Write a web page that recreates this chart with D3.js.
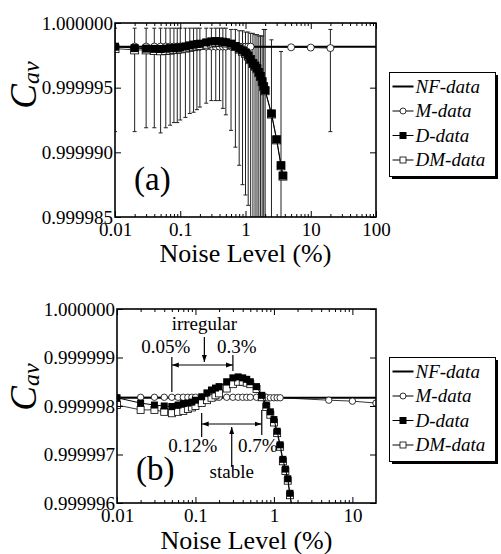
<!DOCTYPE html>
<html>
<head>
<meta charset="utf-8">
<script src="https://cdn.jsdelivr.net/npm/d3@7"></script>
<style>
  body { margin: 0; background: #fff; }
  svg text { font-family: "Liberation Serif", "Times New Roman", serif; fill: #000; }
</style>
</head>
<body>
<div id="chart"></div>
<script>
// noise levels (%) shared by D-data and DM-data
const noise = [0.01, 0.02, 0.03, 0.04, 0.05, 0.06, 0.07, 0.08, 0.09, 0.1,
  0.12, 0.14, 0.16, 0.18, 0.2, 0.25, 0.3, 0.35, 0.4, 0.45, 0.5, 0.6, 0.7, 0.8, 0.9,
  1.0, 1.1, 1.2, 1.3, 1.4, 1.5, 1.6, 1.7, 1.8, 1.9, 2.0, 2.5, 3.0, 3.5, 3.75];

const dData = [0.99999817, 0.99999806, 0.99999802, 0.99999800, 0.99999799, 0.99999802,
  0.99999805, 0.99999806, 0.99999808, 0.99999812, 0.99999819, 0.99999827, 0.99999833,
  0.99999837, 0.99999840, 0.99999850, 0.99999858, 0.99999860, 0.99999858, 0.99999855,
  0.99999850, 0.99999840, 0.99999822, 0.99999802, 0.99999788, 0.99999772, 0.99999748,
  0.99999720, 0.99999690, 0.99999670, 0.99999650, 0.99999620, 0.99999590, 0.99999550,
  0.99999510, 0.99999480, 0.99999300, 0.99999100, 0.99998900, 0.99998820];

const dmData = [0.99999802, 0.99999792, 0.99999792, 0.99999788, 0.99999785, 0.99999788,
  0.99999790, 0.99999794, 0.99999797, 0.99999800, 0.99999806, 0.99999812, 0.99999817,
  0.99999822, 0.99999826, 0.99999836, 0.99999845, 0.99999850, 0.99999850, 0.99999848,
  0.99999845, 0.99999835, 0.99999818, 0.99999798, 0.99999782, 0.99999766, 0.99999744,
  0.99999716, 0.99999686, 0.99999666, 0.99999646, 0.99999616, 0.99999586, 0.99999546,
  0.99999506, 0.99999476, 0.99999296, 0.99999096, 0.99998896, 0.99998816];

// D-data error bars (panel a), null = no bar drawn
const dErrHigh = [0.9999996, 0.9999996, 0.9999996, 0.9999996, 0.9999996, 0.9999996,
  0.9999996, 0.9999996, 0.9999996, 0.9999996, 0.9999996, 0.9999996, 0.9999996,
  0.9999996, 0.9999996, 0.9999996, 0.9999996, 0.9999996, 0.9999996, 0.9999996,
  0.9999996, 0.9999995, 0.9999995, 0.9999994, 0.9999994, 0.9999993, 0.9999993,
  0.9999992, 0.9999992, 0.9999991, 0.9999991, 0.9999990, 0.9999990, 0.9999990,
  0.9999995, 0.9999995, 0.9999987, null, 0.9999978, null];
const dErrLow = [0.9999916, 0.9999916, 0.9999919, 0.9999919, 0.9999915, 0.9999919,
  0.9999921, 0.9999923, 0.9999923, 0.9999925, 0.9999927, 0.9999930, 0.9999931,
  0.9999933, 0.9999935, 0.9999938, 0.9999940, 0.9999940, 0.9999940, 0.9999934,
  0.9999929, 0.9999917, 0.9999904, 0.9999890, 0.9999875, 0.9999867, 0.9999859,
  0.9999800, 0.9999800, 0.9999800, 0.9999800, 0.9999800, 0.9999800, 0.9999800,
  0.9999800, 0.9999800, 0.9999800, null, 0.9999800, null];

const mNoise = [0.01, 0.02, 0.03, 0.04, 0.05, 0.06, 0.07, 0.08, 0.09, 0.1,
  0.12, 0.14, 0.16, 0.18, 0.2, 0.25, 0.3, 0.35, 0.4, 0.45, 0.5, 0.6, 0.7, 0.8, 0.9,
  1.0, 1.1, 1.2, 5, 10, 20];
const mData = [0.99999818, 0.99999818, 0.99999818, 0.99999818, 0.99999818, 0.99999818,
  0.99999818, 0.99999818, 0.99999818, 0.99999818, 0.99999818, 0.99999818, 0.99999818,
  0.99999818, 0.99999818, 0.99999818, 0.99999818, 0.99999818, 0.99999818, 0.99999818,
  0.99999818, 0.99999818, 0.99999818, 0.99999818, 0.99999817, 0.99999817, 0.99999817,
  0.99999817, 0.99999812, 0.99999810, 0.99999806];
const mErrNoise = [20];
const mErrHigh = [0.9999995];
const mErrLow = [0.9999916];

const nfValue = 0.99999817;
const seriesNames = ["NF-data", "M-data", "D-data", "DM-data"];

const xTicksA = [0.01, 0.1, 1, 10, 100];
const yTicksA = [0.999985, 0.99999, 0.999995, 1.0];
const xTicksB = [0.01, 0.1, 1, 10];
const yTicksB = [0.999996, 0.999997, 0.999998, 0.999999, 1.0];

const width = 501, height = 554;

const svg = d3.select("#chart").append("svg")
  .attr("width", width)
  .attr("height", height)
  .style("background", "#fff");

const defs = svg.append("defs");
defs.append("marker")
  .attr("id", "arrow")
  .attr("viewBox", "0 0 10 10")
  .attr("refX", 10).attr("refY", 5)
  .attr("markerWidth", 7).attr("markerHeight", 7)
  .attr("markerUnits", "userSpaceOnUse")
  .attr("orient", "auto-start-reverse")
  .append("path")
  .attr("d", "M0,1.5 L10,5 L0,8.5 Z")
  .attr("fill", "#000");

function drawPanel(p) {
  const g = svg.append("g");
  const x = d3.scaleLog().domain(p.xDomain).range([p.left, p.right]);
  const y = d3.scaleLinear().domain(p.yDomain).range([p.bottom, p.top]);

  defs.append("clipPath").attr("id", "clip-" + p.name)
    .append("rect")
    .attr("x", p.left).attr("y", p.top)
    .attr("width", p.right - p.left).attr("height", p.bottom - p.top);

  const plot = g.append("g").attr("clip-path", "url(#clip-" + p.name + ")");

  // error bars
  if (p.showErr) {
    const errs = noise.map((n, i) => ({ n: n, hi: dErrHigh[i], lo: dErrLow[i] }))
      .filter(d => d.hi !== null)
      .concat(mErrNoise.map((n, i) => ({ n: n, hi: mErrHigh[i], lo: mErrLow[i] })));
    const eb = plot.append("g").attr("stroke", "#222").attr("stroke-width", 1);
    eb.selectAll(".bar").data(errs).enter().append("line")
      .attr("x1", d => x(d.n)).attr("x2", d => x(d.n))
      .attr("y1", d => y(d.hi)).attr("y2", d => y(d.lo));
    eb.selectAll(".caphi").data(errs).enter().append("line")
      .attr("x1", d => x(d.n) - 2).attr("x2", d => x(d.n) + 2)
      .attr("y1", d => y(d.hi)).attr("y2", d => y(d.hi));
    eb.selectAll(".caplo").data(errs).enter().append("line")
      .attr("x1", d => x(d.n) - 2).attr("x2", d => x(d.n) + 2)
      .attr("y1", d => y(d.lo)).attr("y2", d => y(d.lo));
  }

  // NF-data
  plot.append("line")
    .attr("x1", x(p.xDomain[0])).attr("x2", x(p.xDomain[1]))
    .attr("y1", y(nfValue)).attr("y2", y(nfValue))
    .attr("stroke", "#000").attr("stroke-width", 2);

  const line = d3.line().x(d => x(d[0])).y(d => y(d[1]));

  // M-data
  const mPts = mNoise.map((n, i) => [n, mData[i]]);
  plot.append("path").datum(mPts).attr("d", line)
    .attr("fill", "none").attr("stroke", "#000").attr("stroke-width", 0.8);
  plot.selectAll(".mpt").data(mPts).enter().append("circle")
    .attr("cx", d => x(d[0])).attr("cy", d => y(d[1])).attr("r", p.r)
    .attr("fill", "#fff").attr("stroke", "#000").attr("stroke-width", 0.8);

  // DM-data
  const dmPts = noise.map((n, i) => [n, dmData[i]]);
  plot.append("path").datum(dmPts).attr("d", line)
    .attr("fill", "none").attr("stroke", "#000").attr("stroke-width", 0.8);
  plot.selectAll(".dmpt").data(dmPts).enter().append("rect")
    .attr("x", d => x(d[0]) - p.sq / 2).attr("y", d => y(d[1]) - p.sq / 2)
    .attr("width", p.sq).attr("height", p.sq)
    .attr("fill", "#fff").attr("stroke", "#000").attr("stroke-width", 0.8);

  // D-data
  const dPts = noise.map((n, i) => [n, dData[i]]);
  plot.append("path").datum(dPts).attr("d", line)
    .attr("fill", "none").attr("stroke", "#000").attr("stroke-width", 1);
  plot.selectAll(".dpt").data(dPts).enter().append("rect")
    .attr("x", d => x(d[0]) - p.sq / 2).attr("y", d => y(d[1]) - p.sq / 2)
    .attr("width", p.sq).attr("height", p.sq)
    .attr("fill", "#000");

  // axes with inward ticks, all four sides
  const minor = [];
  for (let e = -2; e < 2; e++) {
    for (let k = 2; k <= 9; k++) {
      const v = +(k * Math.pow(10, e)).toPrecision(3);
      if (v < p.xDomain[1]) minor.push(v);
    }
  }
  const axes = g.append("g").attr("class", "axes");
  axes.append("g").attr("transform", "translate(0," + p.bottom + ")")
    .call(d3.axisBottom(x).tickValues(p.xTicks).tickFormat(d3.format("~g"))
      .tickSize(-6).tickPadding(6));
  const unlabeled = [];
  unlabeled.push(axes.append("g").attr("transform", "translate(0," + p.bottom + ")")
    .call(d3.axisBottom(x).tickValues(minor).tickSize(-3)));
  unlabeled.push(axes.append("g").attr("transform", "translate(0," + p.top + ")")
    .call(d3.axisTop(x).tickValues(p.xTicks).tickSize(-6)));
  unlabeled.push(axes.append("g").attr("transform", "translate(0," + p.top + ")")
    .call(d3.axisTop(x).tickValues(minor).tickSize(-3)));
  axes.append("g").attr("transform", "translate(" + p.left + ",0)")
    .call(d3.axisLeft(y).tickValues(p.yTicks).tickFormat(d3.format(".6f"))
      .tickSize(-6).tickPadding(2));
  unlabeled.push(axes.append("g").attr("transform", "translate(" + p.right + ",0)")
    .call(d3.axisRight(y).tickValues(p.yTicks).tickSize(-6)));
  unlabeled.forEach(a => a.selectAll("text").remove());
  axes.selectAll(".domain").remove();
  axes.selectAll(".tick line").attr("stroke", "#000").attr("stroke-width", 1);
  axes.selectAll(".tick text")
    .style("font-family", "'Liberation Serif', serif")
    .style("font-size", "19px")
    .attr("fill", "#000");

  g.append("rect")
    .attr("x", p.left).attr("y", p.top)
    .attr("width", p.right - p.left).attr("height", p.bottom - p.top)
    .attr("fill", "none").attr("stroke", "#000").attr("stroke-width", 1.6);

  // axis titles
  g.append("text")
    .attr("x", (p.left + p.right) / 2).attr("y", p.titleY)
    .attr("text-anchor", "middle")
    .style("font-size", "26px")
    .text("Noise Level (%)");

  const yl = g.append("text")
    .attr("transform", "translate(36," + p.yLabelY + ") rotate(-90)")
    .attr("text-anchor", "middle")
    .style("font-style", "italic");
  yl.append("tspan").style("font-size", "37px").text("C");
  yl.append("tspan").style("font-size", "24px").attr("dy", 3).text("av");

  g.append("text")
    .attr("x", p.left + 19).attr("y", p.tagY)
    .style("font-size", "33px")
    .text(p.tag);

  // legend
  const lg = g.append("g").attr("transform", "translate(389.5," + p.legY + ")");
  lg.append("rect").attr("x", 2.5).attr("y", 2.5).attr("width", 106).attr("height", 104)
    .attr("fill", "#000");
  lg.append("rect").attr("x", 0).attr("y", 0).attr("width", 106).attr("height", 104)
    .attr("fill", "#fff").attr("stroke", "#000").attr("stroke-width", 1);
  seriesNames.forEach((name, i) => {
    const yy = 20 + i * 24.5;
    const row = lg.append("g").attr("transform", "translate(0," + yy + ")");
    row.append("line").attr("x1", 3).attr("x2", 24).attr("y1", -6).attr("y2", -6)
      .attr("stroke", "#000").attr("stroke-width", i === 0 ? 2 : 1);
    if (i === 1) {
      row.append("circle").attr("cx", 13.5).attr("cy", -6).attr("r", 3)
        .attr("fill", "#fff").attr("stroke", "#000").attr("stroke-width", 0.8);
    } else if (i === 2) {
      row.append("rect").attr("x", 10).attr("y", -9.5).attr("width", 7).attr("height", 7)
        .attr("fill", "#000");
    } else if (i === 3) {
      row.append("rect").attr("x", 10.5).attr("y", -9).attr("width", 6).attr("height", 6)
        .attr("fill", "#fff").attr("stroke", "#000").attr("stroke-width", 0.8);
    }
    row.append("text").attr("x", 26).attr("y", 0)
      .style("font-size", "19px").style("font-style", "italic")
      .text(name);
  });

  return { x: x, y: y, g: g };
}

const pa = drawPanel({
  name: "a", left: 115, right: 376, top: 23, bottom: 217,
  xDomain: [0.01, 100], yDomain: [0.999985, 1.0],
  xTicks: xTicksA, yTicks: yTicksA, showErr: true, sq: 8, r: 3.5,
  titleY: 262, yLabelY: 85, tag: "(a)", tagY: 190, legY: 72.5
});

const pb = drawPanel({
  name: "b", left: 117, right: 376, top: 309, bottom: 503,
  xDomain: [0.01, 20], yDomain: [0.999996, 1.0],
  xTicks: xTicksB, yTicks: yTicksB, showErr: false, sq: 7, r: 3.2,
  titleY: 549, yLabelY: 387, tag: "(b)", tagY: 480, legY: 357.5
});

// annotations on panel (b)
const irregular = [0.05, 0.3];
const stable = [0.12, 0.7];
const xb = pb.x, ann = pb.g.append("g");
const fs = "19px";

function vline(xv, y1, y2) {
  ann.append("line").attr("x1", xv).attr("x2", xv).attr("y1", y1).attr("y2", y2)
    .attr("stroke", "#000").attr("stroke-width", 1.2);
}
function arrow(x1, y1, x2, y2, both) {
  const l = ann.append("line").attr("x1", x1).attr("y1", y1).attr("x2", x2).attr("y2", y2)
    .attr("stroke", "#000").attr("stroke-width", 1.2)
    .attr("marker-end", "url(#arrow)");
  if (both) l.attr("marker-start", "url(#arrow)");
}

const i0 = xb(irregular[0]), i1 = xb(irregular[1]);
const iMid = (i0 + i1) / 2 + 2;
vline(i0, 357, 392);
vline(i1, 355, 371);
arrow(i0, 365, i1, 365, true);
arrow(iMid, 337, iMid, 362, false);
ann.append("text").attr("x", iMid).attr("y", 330).attr("text-anchor", "middle")
  .style("font-size", fs).text("irregular");
ann.append("text").attr("x", i0 - 6).attr("y", 353).attr("text-anchor", "middle")
  .style("font-size", fs).text("0.05%");
ann.append("text").attr("x", i1 + 4).attr("y", 353).attr("text-anchor", "middle")
  .style("font-size", fs).text("0.3%");

const s0 = xb(stable[0]), s1 = xb(stable[1]);
const sMid = (s0 + s1) / 2;
vline(s0, 413, 437);
vline(s1, 410, 435);
arrow(s0, 424, s1, 424, true);
arrow(sMid, 467, sMid, 427, false);
ann.append("text").attr("x", s0 - 9).attr("y", 452).attr("text-anchor", "middle")
  .style("font-size", fs).text("0.12%");
ann.append("text").attr("x", s1 - 4).attr("y", 452).attr("text-anchor", "middle")
  .style("font-size", fs).text("0.7%");
ann.append("text").attr("x", sMid).attr("y", 478).attr("text-anchor", "middle")
  .style("font-size", fs).text("stable");
</script>
</body>
</html>
